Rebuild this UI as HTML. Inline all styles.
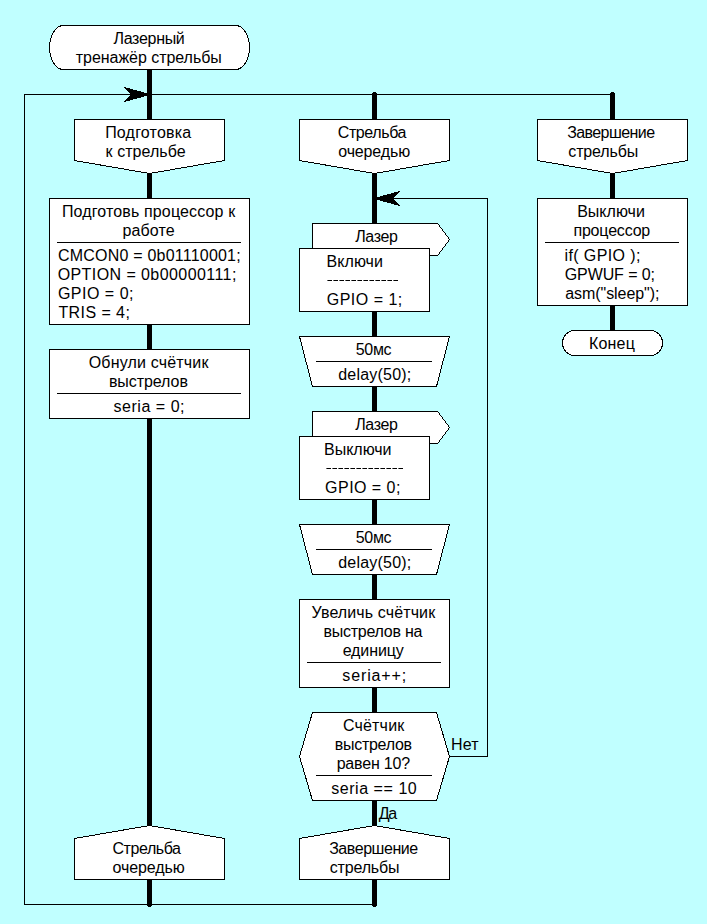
<!DOCTYPE html>
<html><head><meta charset="utf-8"><style>
html,body{margin:0;padding:0;background:#C0FFFF;}
svg{display:block}
.s{fill:#fff;stroke:#000;stroke-width:1}
.t{stroke:#000;stroke-width:5;stroke-linecap:round}
text{font-family:"Liberation Sans",sans-serif;font-size:16px;fill:#000}
</style></head><body>
<svg width="707" height="924" viewBox="0 0 707 924">
<rect x="0" y="0" width="707" height="924" fill="#C0FFFF"/>
<g shape-rendering="crispEdges">
<rect x="24" y="94" width="589" height="1" fill="#000"/>
<rect x="24" y="94" width="1" height="811" fill="#000"/>
<rect x="24" y="904" width="351" height="1" fill="#000"/>
<rect x="377" y="198" width="111" height="1" fill="#000"/>
<rect x="487" y="198" width="1" height="559" fill="#000"/>
<rect x="449" y="756" width="39" height="1" fill="#000"/>
<line x1="149.5" y1="70" x2="149.5" y2="904.5" class="t"/>
<line x1="374.5" y1="94.5" x2="374.5" y2="904.5" class="t"/>
<line x1="612.5" y1="94.5" x2="612.5" y2="330" class="t"/>
<rect x="124" y="87" width="2" height="1" fill="#000"/>
<rect x="398" y="191" width="2" height="1" fill="#000"/>
<rect x="125" y="88" width="5" height="1" fill="#000"/>
<rect x="394" y="192" width="5" height="1" fill="#000"/>
<rect x="126" y="89" width="7" height="1" fill="#000"/>
<rect x="391" y="193" width="7" height="1" fill="#000"/>
<rect x="127" y="90" width="10" height="1" fill="#000"/>
<rect x="387" y="194" width="10" height="1" fill="#000"/>
<rect x="128" y="91" width="13" height="1" fill="#000"/>
<rect x="383" y="195" width="13" height="1" fill="#000"/>
<rect x="129" y="92" width="15" height="1" fill="#000"/>
<rect x="380" y="196" width="15" height="1" fill="#000"/>
<rect x="130" y="93" width="17" height="1" fill="#000"/>
<rect x="377" y="197" width="17" height="1" fill="#000"/>
<rect x="130" y="94" width="17" height="1" fill="#000"/>
<rect x="377" y="198" width="17" height="1" fill="#000"/>
<rect x="130" y="95" width="17" height="1" fill="#000"/>
<rect x="377" y="199" width="17" height="1" fill="#000"/>
<rect x="129" y="96" width="15" height="1" fill="#000"/>
<rect x="380" y="200" width="15" height="1" fill="#000"/>
<rect x="128" y="97" width="13" height="1" fill="#000"/>
<rect x="383" y="201" width="13" height="1" fill="#000"/>
<rect x="127" y="98" width="10" height="1" fill="#000"/>
<rect x="387" y="202" width="10" height="1" fill="#000"/>
<rect x="126" y="99" width="7" height="1" fill="#000"/>
<rect x="391" y="203" width="7" height="1" fill="#000"/>
<rect x="125" y="100" width="5" height="1" fill="#000"/>
<rect x="394" y="204" width="5" height="1" fill="#000"/>
<rect x="124" y="101" width="2" height="1" fill="#000"/>
<rect x="398" y="205" width="2" height="1" fill="#000"/>
<rect x="49.5" y="25.5" width="200" height="44" rx="14" ry="22" class="s"/>
<polygon points="74.5,119.5 224.5,119.5 224.5,160.5 149.5,173.5 74.5,160.5" class="s"/>
<polygon points="299.5,119.5 449.5,119.5 449.5,160.5 374.5,173.5 299.5,160.5" class="s"/>
<polygon points="537.5,119.5 687.5,119.5 687.5,160.5 612.5,173.5 537.5,160.5" class="s"/>
<polygon points="74.5,838.5 149.5,825.5 224.5,838.5 224.5,879.5 74.5,879.5" class="s"/>
<polygon points="299.5,838.5 374.5,825.5 449.5,838.5 449.5,879.5 299.5,879.5" class="s"/>
<rect x="49.5" y="198.5" width="200" height="126" rx="0" ry="0" class="s"/>
<rect x="57" y="242" width="184" height="1" fill="#000"/>
<rect x="49.5" y="349.5" width="200" height="69" rx="0" ry="0" class="s"/>
<rect x="57" y="393" width="184" height="1" fill="#000"/>
<rect x="537.5" y="198.5" width="150" height="107" rx="0" ry="0" class="s"/>
<rect x="545" y="242" width="134" height="1" fill="#000"/>
<rect x="562.5" y="330.5" width="100" height="25" rx="12" ry="12.5" class="s"/>
<polygon points="312.5,223.5 437.5,223.5 449.5,239.5 437.5,255.5 312.5,255.5" fill="#fff"/>
<rect x="312" y="223" width="126" height="1" fill="#000"/>
<rect x="312" y="255" width="126" height="1" fill="#000"/>
<rect x="312" y="223" width="1" height="33" fill="#000"/>
<rect x="437" y="223" width="1" height="1" fill="#000"/>
<rect x="437" y="255" width="1" height="1" fill="#000"/>
<rect x="438" y="224" width="1" height="1" fill="#000"/>
<rect x="438" y="254" width="1" height="1" fill="#000"/>
<rect x="439" y="225" width="1" height="1" fill="#000"/>
<rect x="439" y="253" width="1" height="1" fill="#000"/>
<rect x="439" y="226" width="1" height="1" fill="#000"/>
<rect x="439" y="252" width="1" height="1" fill="#000"/>
<rect x="440" y="227" width="1" height="1" fill="#000"/>
<rect x="440" y="251" width="1" height="1" fill="#000"/>
<rect x="441" y="228" width="1" height="1" fill="#000"/>
<rect x="441" y="250" width="1" height="1" fill="#000"/>
<rect x="442" y="229" width="1" height="1" fill="#000"/>
<rect x="442" y="249" width="1" height="1" fill="#000"/>
<rect x="442" y="230" width="1" height="1" fill="#000"/>
<rect x="442" y="248" width="1" height="1" fill="#000"/>
<rect x="443" y="231" width="1" height="1" fill="#000"/>
<rect x="443" y="247" width="1" height="1" fill="#000"/>
<rect x="444" y="232" width="1" height="1" fill="#000"/>
<rect x="444" y="246" width="1" height="1" fill="#000"/>
<rect x="445" y="233" width="1" height="1" fill="#000"/>
<rect x="445" y="245" width="1" height="1" fill="#000"/>
<rect x="445" y="234" width="1" height="1" fill="#000"/>
<rect x="445" y="244" width="1" height="1" fill="#000"/>
<rect x="446" y="235" width="1" height="1" fill="#000"/>
<rect x="446" y="243" width="1" height="1" fill="#000"/>
<rect x="447" y="236" width="1" height="1" fill="#000"/>
<rect x="447" y="242" width="1" height="1" fill="#000"/>
<rect x="448" y="237" width="1" height="1" fill="#000"/>
<rect x="448" y="241" width="1" height="1" fill="#000"/>
<rect x="448" y="238" width="1" height="1" fill="#000"/>
<rect x="448" y="240" width="1" height="1" fill="#000"/>
<rect x="449" y="239" width="1" height="1" fill="#000"/>
<rect x="449" y="239" width="1" height="1" fill="#000"/>
<rect x="299.5" y="248.5" width="130" height="63" rx="0" ry="0" class="s"/>
<polygon points="312.5,411.5 437.5,411.5 449.5,427.5 437.5,443.5 312.5,443.5" fill="#fff"/>
<rect x="312" y="411" width="126" height="1" fill="#000"/>
<rect x="312" y="443" width="126" height="1" fill="#000"/>
<rect x="312" y="411" width="1" height="33" fill="#000"/>
<rect x="437" y="411" width="1" height="1" fill="#000"/>
<rect x="437" y="443" width="1" height="1" fill="#000"/>
<rect x="438" y="412" width="1" height="1" fill="#000"/>
<rect x="438" y="442" width="1" height="1" fill="#000"/>
<rect x="439" y="413" width="1" height="1" fill="#000"/>
<rect x="439" y="441" width="1" height="1" fill="#000"/>
<rect x="439" y="414" width="1" height="1" fill="#000"/>
<rect x="439" y="440" width="1" height="1" fill="#000"/>
<rect x="440" y="415" width="1" height="1" fill="#000"/>
<rect x="440" y="439" width="1" height="1" fill="#000"/>
<rect x="441" y="416" width="1" height="1" fill="#000"/>
<rect x="441" y="438" width="1" height="1" fill="#000"/>
<rect x="442" y="417" width="1" height="1" fill="#000"/>
<rect x="442" y="437" width="1" height="1" fill="#000"/>
<rect x="442" y="418" width="1" height="1" fill="#000"/>
<rect x="442" y="436" width="1" height="1" fill="#000"/>
<rect x="443" y="419" width="1" height="1" fill="#000"/>
<rect x="443" y="435" width="1" height="1" fill="#000"/>
<rect x="444" y="420" width="1" height="1" fill="#000"/>
<rect x="444" y="434" width="1" height="1" fill="#000"/>
<rect x="445" y="421" width="1" height="1" fill="#000"/>
<rect x="445" y="433" width="1" height="1" fill="#000"/>
<rect x="445" y="422" width="1" height="1" fill="#000"/>
<rect x="445" y="432" width="1" height="1" fill="#000"/>
<rect x="446" y="423" width="1" height="1" fill="#000"/>
<rect x="446" y="431" width="1" height="1" fill="#000"/>
<rect x="447" y="424" width="1" height="1" fill="#000"/>
<rect x="447" y="430" width="1" height="1" fill="#000"/>
<rect x="448" y="425" width="1" height="1" fill="#000"/>
<rect x="448" y="429" width="1" height="1" fill="#000"/>
<rect x="448" y="426" width="1" height="1" fill="#000"/>
<rect x="448" y="428" width="1" height="1" fill="#000"/>
<rect x="449" y="427" width="1" height="1" fill="#000"/>
<rect x="449" y="427" width="1" height="1" fill="#000"/>
<rect x="299.5" y="436.5" width="130" height="63" rx="0" ry="0" class="s"/>
<polygon points="299.5,336.5 449.5,336.5 436.5,386.5 312.5,386.5" class="s"/>
<rect x="316" y="361" width="116" height="1" fill="#000"/>
<polygon points="299.5,524.5 449.5,524.5 436.5,574.5 312.5,574.5" class="s"/>
<rect x="316" y="549" width="116" height="1" fill="#000"/>
<rect x="299.5" y="599.5" width="150" height="88" rx="0" ry="0" class="s"/>
<rect x="307" y="662" width="134" height="1" fill="#000"/>
<polygon points="312.5,712.5 436.5,712.5 449.5,756.5 436.5,800.5 312.5,800.5 299.5,756.5" class="s"/>
<rect x="316" y="775" width="116" height="1" fill="#000"/>
</g>
<g>
<text id="t0" x="113.47" y="44" textLength="71.34" lengthAdjust="spacing">Лазерный</text>
<text id="t1" x="75.85" y="63" textLength="145.93" lengthAdjust="spacing">тренажёр стрельбы</text>
<text id="t2" x="105.15" y="138" textLength="86.05" lengthAdjust="spacing">Подготовка</text>
<text id="t3" x="105.61" y="157" textLength="79.99" lengthAdjust="spacing">к стрельбе</text>
<text id="t4" x="337.73" y="138" textLength="68.71" lengthAdjust="spacing">Стрельба</text>
<text id="t5" x="338.30" y="157" textLength="71.83" lengthAdjust="spacing">очередью</text>
<text id="t6" x="567.13" y="138" textLength="87.94" lengthAdjust="spacing">Завершение</text>
<text id="t7" x="568.33" y="157" textLength="69.82" lengthAdjust="spacing">стрельбы</text>
<text id="t8" x="61.95" y="217" textLength="173.19" lengthAdjust="spacing">Подготовь процессор к</text>
<text id="t9" x="122.47" y="236" textLength="52.13" lengthAdjust="spacing">работе</text>
<text id="t10" x="57.93" y="261" textLength="182.76" lengthAdjust="spacing">CMCON0 = 0b01110001;</text>
<text id="t11" x="57.66" y="280" textLength="178.70" lengthAdjust="spacing">OPTION = 0b00000111;</text>
<text id="t12" x="57.93" y="299" textLength="75.56" lengthAdjust="spacing">GPIO = 0;</text>
<text id="t13" x="58.38" y="318" textLength="71.53" lengthAdjust="spacing">TRIS = 4;</text>
<text id="t14" x="88.69" y="368" textLength="119.73" lengthAdjust="spacing">Обнули счётчик</text>
<text id="t15" x="108.90" y="387" textLength="78.99" lengthAdjust="spacing">выстрелов</text>
<text id="t16" x="113.49" y="412" textLength="71.05" lengthAdjust="spacing">seria = 0;</text>
<text id="t17" x="577.14" y="217" textLength="67.78" lengthAdjust="spacing">Выключи</text>
<text id="t18" x="573.41" y="236" textLength="76.87" lengthAdjust="spacing">процессор</text>
<text id="t19" x="564.43" y="261" textLength="76.00" lengthAdjust="spacing">if( GPIO );</text>
<text id="t20" x="564.73" y="280" textLength="90.25" lengthAdjust="spacing">GPWUF = 0;</text>
<text id="t21" x="565.19" y="299" textLength="94.28" lengthAdjust="spacing">asm(&quot;sleep&quot;);</text>
<text id="t22" x="589.07" y="349" textLength="45.74" lengthAdjust="spacing">Конец</text>
<text id="t23" x="355.16" y="242" textLength="42.70" lengthAdjust="spacing">Лазер</text>
<text id="t24" x="326.61" y="267" textLength="56.31" lengthAdjust="spacing">Включи</text>
<rect x="327.40" y="280" width="4.6" height="1" fill="#000"/>
<rect x="333.40" y="280" width="4.6" height="1" fill="#000"/>
<rect x="339.40" y="280" width="4.6" height="1" fill="#000"/>
<rect x="345.40" y="280" width="4.6" height="1" fill="#000"/>
<rect x="351.40" y="280" width="4.6" height="1" fill="#000"/>
<rect x="357.40" y="280" width="4.6" height="1" fill="#000"/>
<rect x="363.40" y="280" width="4.6" height="1" fill="#000"/>
<rect x="369.40" y="280" width="4.6" height="1" fill="#000"/>
<rect x="375.40" y="280" width="4.6" height="1" fill="#000"/>
<rect x="381.40" y="280" width="4.6" height="1" fill="#000"/>
<rect x="387.40" y="280" width="4.6" height="1" fill="#000"/>
<rect x="393.40" y="280" width="4.6" height="1" fill="#000"/>
<text id="t26" x="326.73" y="305" textLength="75.50" lengthAdjust="spacing">GPIO = 1;</text>
<text id="t27" x="355.16" y="430" textLength="42.70" lengthAdjust="spacing">Лазер</text>
<text id="t28" x="324.07" y="455" textLength="67.47" lengthAdjust="spacing">Выключи</text>
<rect x="326.40" y="468" width="4.6" height="1" fill="#000"/>
<rect x="332.40" y="468" width="4.6" height="1" fill="#000"/>
<rect x="338.40" y="468" width="4.6" height="1" fill="#000"/>
<rect x="344.40" y="468" width="4.6" height="1" fill="#000"/>
<rect x="350.40" y="468" width="4.6" height="1" fill="#000"/>
<rect x="356.40" y="468" width="4.6" height="1" fill="#000"/>
<rect x="362.40" y="468" width="4.6" height="1" fill="#000"/>
<rect x="368.40" y="468" width="4.6" height="1" fill="#000"/>
<rect x="374.40" y="468" width="4.6" height="1" fill="#000"/>
<rect x="380.40" y="468" width="4.6" height="1" fill="#000"/>
<rect x="386.40" y="468" width="4.6" height="1" fill="#000"/>
<rect x="392.40" y="468" width="4.6" height="1" fill="#000"/>
<rect x="398.40" y="468" width="4.6" height="1" fill="#000"/>
<text id="t30" x="325.11" y="493" textLength="75.22" lengthAdjust="spacing">GPIO = 0;</text>
<text id="t31" x="355.66" y="355" textLength="35.93" lengthAdjust="spacing">50мс</text>
<text id="t32" x="338.19" y="380" textLength="73.12" lengthAdjust="spacing">delay(50);</text>
<text id="t33" x="355.66" y="543" textLength="35.93" lengthAdjust="spacing">50мс</text>
<text id="t34" x="338.19" y="568" textLength="73.12" lengthAdjust="spacing">delay(50);</text>
<text id="t35" x="311.57" y="618" textLength="123.57" lengthAdjust="spacing">Увеличь счётчик</text>
<text id="t36" x="323.41" y="637" textLength="98.99" lengthAdjust="spacing">выстрелов на</text>
<text id="t37" x="342.66" y="656" textLength="61.20" lengthAdjust="spacing">единицу</text>
<text id="t38" x="342.34" y="681" textLength="63.86" lengthAdjust="spacing">seria++;</text>
<text id="t39" x="342.92" y="731" textLength="61.34" lengthAdjust="spacing">Счётчик</text>
<text id="t40" x="334.76" y="750" textLength="77.31" lengthAdjust="spacing">выстрелов</text>
<text id="t41" x="336.65" y="769" textLength="73.51" lengthAdjust="spacing">равен 10?</text>
<text id="t42" x="331.17" y="794" textLength="85.58" lengthAdjust="spacing">seria == 10</text>
<text id="t43" x="451.07" y="750" textLength="27.50" lengthAdjust="spacing">Нет</text>
<text id="t44" x="378.65" y="819" textLength="18.43" lengthAdjust="spacing">Да</text>
<text id="t45" x="112.47" y="854" textLength="68.53" lengthAdjust="spacing">Стрельба</text>
<text id="t46" x="112.55" y="873" textLength="72.13" lengthAdjust="spacing">очередью</text>
<text id="t47" x="329.13" y="854" textLength="89.11" lengthAdjust="spacing">Завершение</text>
<text id="t48" x="329.78" y="873" textLength="69.69" lengthAdjust="spacing">стрельбы</text>
</g>
</svg>
</body></html>
